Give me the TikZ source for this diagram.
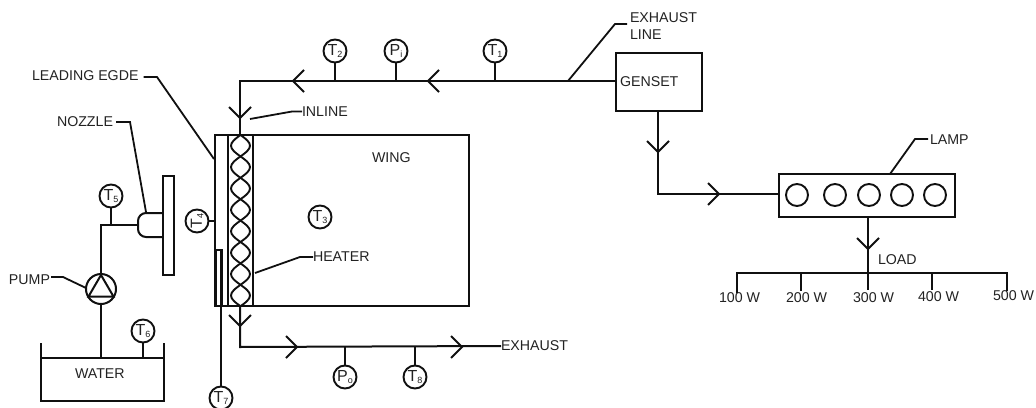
\documentclass[tikz,border=0pt]{standalone}
\usepackage{fontspec}
\setmainfont{Liberation Sans}
\definecolor{ink}{HTML}{101010}
\definecolor{lab}{HTML}{222222}
\newcommand{\gs}[1]{\raisebox{-1.5pt}{\fontsize{9}{9}\selectfont #1}}
\tikzset{
  wire/.style={draw=ink,line width=2pt,line join=miter},
  lead/.style={draw=ink,line width=1.8pt},
  boxn/.style={draw=ink,line width=2pt,inner sep=0pt,outer sep=0pt,fill=none},
  gauge/.style={circle,draw=ink,line width=1.9pt,minimum size=23pt,inner sep=0pt,outer sep=0pt,text=lab,font=\fontsize{16}{16}\selectfont},
  lamp/.style={circle,draw=ink,line width=1.9pt,minimum size=22pt,inner sep=0pt,outer sep=0pt},
  lbl/.style={anchor=west,inner sep=0pt,outer sep=0pt,text=lab,font=\fontsize{14.2}{17}\selectfont},
  pics/chev/.style={code={\draw[wire] (-11,-11) -- (0,0) -- (-11,11);}}
}
\begin{document}
\begin{tikzpicture}[x=1pt,y=-1pt]
\useasboundingbox (0,0) rectangle (1036,407);
% main bodies
\node[boxn,minimum width=254pt,minimum height=171pt] (wing) at (342,220.5) {};
\node[boxn,minimum width=25pt,minimum height=171pt] (heater) at (240.5,220.5) {};
\node[boxn,minimum width=86pt,minimum height=58pt] (genset) at (659,81.5) {};
\node[boxn,minimum width=176pt,minimum height=43pt] (lampbox) at (867,195.5) {};
\node[boxn,minimum width=11pt,minimum height=99pt] (plate) at (168.5,225.5) {};
\node[boxn,minimum width=6pt,minimum height=56pt] (probe) at (219,278) {};
% coil
\foreach \s in {1,-1}
  \draw[wire,line width=1.9pt] plot[smooth,domain=0:8,samples=65] ({240.5+\s*9.5*sin(180*\x)},{135+21.4*\x});
% gauges
\node[gauge] (T1) at (495,51) {T\gs{1}};
\node[gauge] (Pi) at (396,51) {P\gs{i}};
\node[gauge] (T2) at (335,51) {T\gs{2}};
\node[gauge] (T3) at (320,217) {T\gs{3}};
\node[gauge,rotate=90] (T4) at (197,221) {T\gs{4}};
\node[gauge] (T5) at (111,196) {T\gs{5}};
\node[gauge] (T6) at (143,331) {T\gs{6}};
\node[gauge] (T7) at (221,398) {T\gs{7}};
\node[gauge] (Po) at (345,377) {P\gs{o}};
\node[gauge] (T8) at (415,377) {T\gs{8}};
% lamps
\node[lamp] (L1) at (797,195) {};
\node[lamp] (L2) at (835,195) {};
\node[lamp] (L3) at (869,195) {};
\node[lamp] (L4) at (902,195) {};
\node[lamp] (L5) at (935,195) {};
% labels
\node[lbl] (tLE) at (32,76) {LEADING EGDE};
\node[lbl] (tNO) at (57,122) {NOZZLE};
\node[lbl] (tPU) at (9,280) {PUMP};
\node[lbl] (tWA) at (75,374) {WATER};
\node[lbl] (tIN) at (302,112) {INLINE};
\node[lbl] (tWI) at (372,158) {WING};
\node[lbl] (tHE) at (313,257) {HEATER};
\node[lbl] (tEX) at (501,346) {EXHAUST};
\node[lbl,align=left] (tEL) at (630,26.5) {EXHAUST\\LINE};
\node[lbl] (tGE) at (620,82) {GENSET};
\node[lbl] (tLA) at (930,140) {LAMP};
\node[lbl] (tLO) at (878,260) {LOAD};
\node[lbl] (w1) at (719,298) {100 W};
\node[lbl] (w2) at (786,298) {200 W};
\node[lbl] (w3) at (853,298) {300 W};
\node[lbl] (w4) at (918,297) {400 W};
\node[lbl] (w5) at (993,296) {500 W};
% junctions
\coordinate (c1) at (240,81);
\coordinate (inl) at (240,135);
\coordinate (jEL) at (568,81);
\coordinate (ot) at (240,306);
\coordinate (c2) at (240,347);
\coordinate (jPo) at (345,347);
\coordinate (jT8) at (415,347);
\coordinate (c3) at (658,194);
\coordinate (bus1) at (737,273);
\coordinate (bus5) at (1007,273);
% exhaust path
\draw[wire] (genset.west |- c1) -- (c1) -- (inl);
\draw[wire] (T1.south) -- (T1.south |- c1);
\draw[wire] (Pi.south) -- (Pi.south |- c1);
\draw[wire] (T2.south) -- (T2.south |- c1);
\pic[rotate=180] at (293,81) {chev};
\pic[rotate=180] at (428,81) {chev};
\pic[rotate=-90] at (240,118) {chev};
\draw[wire] (ot) -- (c2) -- (tEX.west);
\draw[wire] (Po.north) -- (jPo);
\draw[wire] (T8.north) -- (jT8);
\pic[rotate=-90] at (240,326) {chev};
\pic at (297,347) {chev};
\pic at (462,347) {chev};
% genset to lamp
\draw[wire] (genset.south -| c3) -- (c3) -- (c3 -| lampbox.west);
\pic[rotate=-90] at (658,152) {chev};
\pic at (719,194) {chev};
% load
\draw[wire] (lampbox.south -| 868,0) -- (868,290);
\pic[rotate=-90] at (868,249) {chev};
\draw[wire] (737,293) -- (bus1) -- (bus5) -- (1007,291);
\draw[wire] (801,273) -- (801,291);
\draw[wire] (932,273) -- (932,290);
% water side
\node[circle,draw=ink,line width=2pt,minimum size=30pt,inner sep=0pt,outer sep=0pt] (pump) at (101,289) {};
\draw[wire,line join=miter] (101,275) -- (88.5,296.5) -- (113.5,296.5) -- cycle;
\coordinate (tankTL) at (41,358);
\coordinate (tankTR) at (164,358);
\draw[wire] (41,343) -- (41,401) -- (164,401) -- (164,343);
\draw[wire] (tankTL) -- (tankTR);
\draw[wire] (pump.south) -- (pump.south |- tankTL);
\draw[wire] (T6.south) -- (T6.south |- tankTL);
\coordinate (c4) at (101,225);
\coordinate (noz) at (138,225);
\draw[wire] (pump.north) -- (c4) -- (noz);
\draw[wire] (T5.south) -- (T5.south |- c4);
\draw[wire,rounded corners=8pt] (plate.west |- 0,213) -- (138,213) -- (138,237) -- (plate.west |- 0,237);
% T4, T7
\draw[wire] (T4.south) -- (wing.west |- T4);
\draw[wire] (T7.north) -- (T7.north |- probe.south) -- (221,250);
% leaders
\draw[lead] (tLE.east) ++(5,1) -- (157,77) -- (214,159);
\draw[lead] (tNO.east) ++(3,0) -- (130,122) -- (146,212);
\draw[lead] (tPU.east) ++(1,-3) -- (63,277) -- (86,288);
\draw[lead] (250,119) -- (292,111.5) -- (tIN.west |- 0,111.5);
\draw[lead] (255,273) -- (300,257) -- (tHE.west);
\draw[lead] (jEL) -- (615,24) -- (627,24);
\draw[lead] (890,174) -- (915,139) -- (928,139);
\end{tikzpicture}
\end{document}
